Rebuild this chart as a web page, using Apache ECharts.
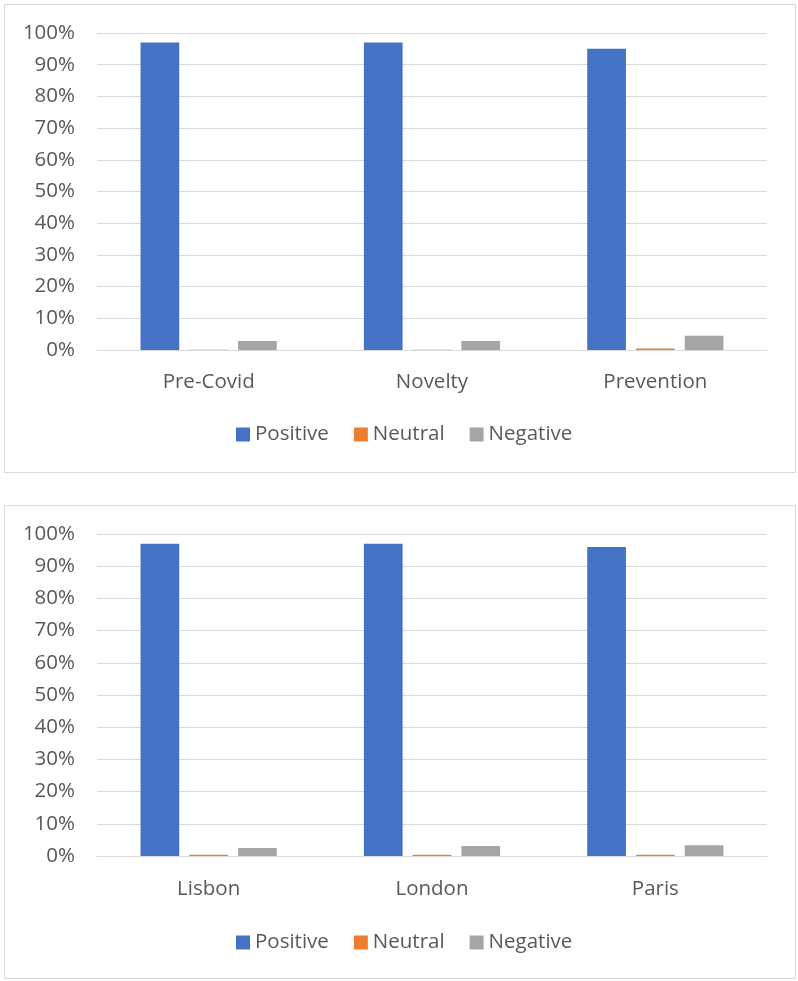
<!DOCTYPE html>
<html>
<head>
    <meta charset="utf-8">
    <title>Sentiment</title>
    <script src="https://cdn.jsdelivr.net/npm/echarts@6/dist/echarts.min.js"></script>
    <style>
        body { margin: 0; background: #fff; }
        .box { position: absolute; left: 4px; width: 792px; border: 1px solid #d9d9d9; box-sizing: border-box; }
    </style>
</head>
<body>
    <div id="top" class="box" style="top:4px;height:469px;"></div>
    <div id="bottom" class="box" style="top:505px;height:474px;"></div>
    <script type="text/javascript">
        // data (percent)
        var seriesNames = ['Positive', 'Neutral', 'Negative'];
        var colors = ['#4472C4', '#ED7D31', '#A5A5A5'];

        var topCategories = ['Pre-Covid', 'Novelty', 'Prevention'];
        var topPositive = [97, 97, 95];
        var topNeutral = [0.1, 0.1, 0.5];
        var topNegative = [2.8, 2.8, 4.5];

        var bottomCategories = ['Lisbon', 'London', 'Paris'];
        var bottomPositive = [97, 97, 96];
        var bottomNeutral = [0.4, 0.4, 0.4];
        var bottomNegative = [2.5, 3.1, 3.3];

        var font = '"Open Sans", "Noto Sans", sans-serif';

        function makeOption(categories, pos, neu, neg, labelMargin, legendBottom) {
            var values = [pos, neu, neg];
            return {
                animation: false,
                textStyle: { fontFamily: font },
                grid: { left: 92, right: 28, top: 28, bottom: 122 },
                legend: {
                    bottom: legendBottom,
                    left: 226,
                    itemWidth: 14,
                    itemHeight: 14,
                    itemGap: 25,
                    icon: 'rect',
                    textStyle: { color: '#595959', fontSize: 20.5, fontFamily: font },
                    data: seriesNames
                },
                xAxis: {
                    type: 'category',
                    data: categories,
                    axisTick: { show: false },
                    axisLine: { lineStyle: { color: '#d9d9d9', width: 1 } },
                    axisLabel: { color: '#595959', fontSize: 20.5, margin: labelMargin, fontFamily: font }
                },
                yAxis: {
                    type: 'value',
                    min: 0,
                    max: 100,
                    interval: 10,
                    axisLine: { show: false },
                    axisTick: { show: false },
                    splitLine: { lineStyle: { color: '#d9d9d9', width: 1 } },
                    axisLabel: {
                        color: '#595959',
                        fontSize: 20.5,
                        margin: 22,
                        fontFamily: font,
                        formatter: '{value}%'
                    }
                },
                series: seriesNames.map(function (name, i) {
                    return {
                        name: name,
                        type: 'bar',
                        data: values[i],
                        barGap: '26%',
                        barCategoryGap: '39%',
                        itemStyle: { color: colors[i] }
                    };
                })
            };
        }

        var topChart = echarts.init(document.getElementById('top'));
        topChart.setOption(makeOption(topCategories, topPositive, topNeutral, topNegative, 22, 22));

        var bottomChart = echarts.init(document.getElementById('bottom'));
        bottomChart.setOption(makeOption(bottomCategories, bottomPositive, bottomNeutral, bottomNegative, 23, 20));
    </script>
</body>
</html>
